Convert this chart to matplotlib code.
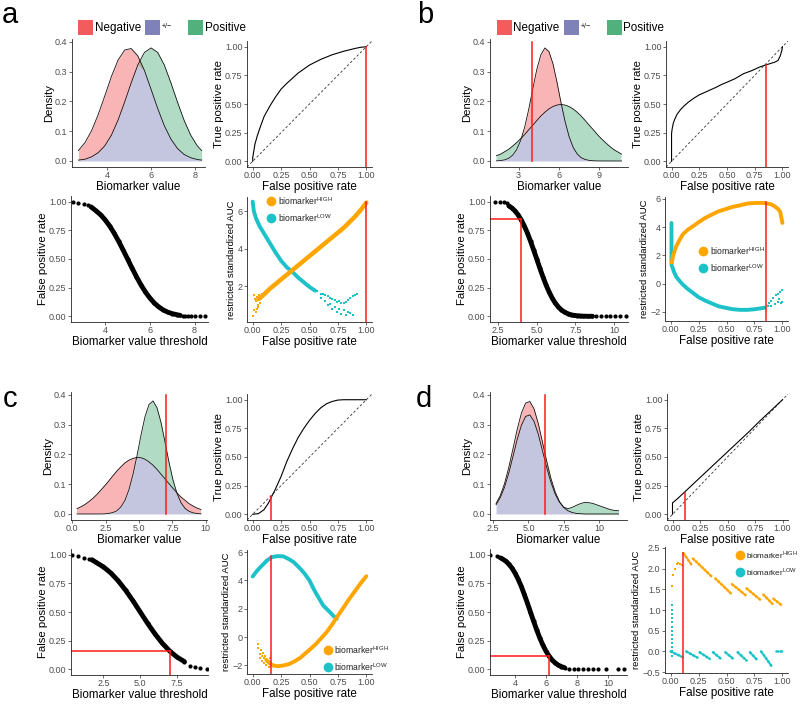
import matplotlib
matplotlib.use("Agg")
import matplotlib.pyplot as plt
import numpy as np
from matplotlib.patches import Rectangle
from matplotlib.lines import Line2D

plt.rcParams["font.family"] = ["Liberation Sans", "DejaVu Sans"]
plt.rcParams["mathtext.fontset"] = "custom"
plt.rcParams["mathtext.rm"] = "Liberation Sans"
plt.rcParams["axes.unicode_minus"] = True

W, H = 800, 704
NEG = "#F25C5C"
MID = "#7E82B8"
POS = "#52B07D"
ORANGE = "#FFA500"
CYAN = "#1CC2C8"
RED = "#FF1A1A"
TICK = "#4D4D4D"

# ---------------- densities ----------------
dens_a_x = [2.7, 3.0, 3.3, 3.6, 3.9, 4.2, 4.5, 4.8, 5.1, 5.4, 5.7, 6.0, 6.3, 6.6, 6.9, 7.2, 7.5, 7.8, 8.1, 8.3]
dens_a_neg = [0.035, 0.062, 0.102, 0.156, 0.219, 0.284, 0.339, 0.373, 0.378, 0.353, 0.304, 0.241, 0.177, 0.119,
              0.074, 0.042, 0.022, 0.011, 0.005, 0.003]
dens_a_pos = [0.003, 0.006, 0.014, 0.028, 0.051, 0.087, 0.137, 0.198, 0.263, 0.323, 0.365, 0.38, 0.365, 0.323,
              0.263, 0.198, 0.137, 0.087, 0.051, 0.035]

dens_b_x = [1.35, 1.65, 1.95, 2.25, 2.55, 2.85, 3.15, 3.45, 3.75, 4.05, 4.35, 4.65, 4.95, 5.25, 5.55, 5.85,
            6.15, 6.45, 6.75, 7.05, 7.35, 7.65, 7.95, 8.25, 8.55, 8.85, 9.15, 9.45, 9.75, 10.05, 10.35, 10.65]
dens_b_neg = [0.0005, 0.0014, 0.0036, 0.0087, 0.019, 0.038, 0.069, 0.114, 0.174, 0.242, 0.308, 0.357, 0.38,
              0.368, 0.327, 0.265, 0.196, 0.133, 0.082, 0.046, 0.024, 0.011, 0.005, 0.002, 0.0007, 0.0002,
              0.0001, 0.0, 0.0, 0.0, 0.0, 0.0]
dens_b_pos = [0.018, 0.023, 0.031, 0.039, 0.050, 0.062, 0.075, 0.089, 0.105, 0.120, 0.136, 0.151, 0.164, 0.175,
              0.183, 0.188, 0.19, 0.188, 0.183, 0.175, 0.164, 0.151, 0.136, 0.120, 0.105, 0.089, 0.075, 0.062,
              0.050, 0.039, 0.031, 0.023]

dens_c_x = [0.35, 0.65, 0.95, 1.25, 1.55, 1.85, 2.15, 2.45, 2.75, 3.05, 3.35, 3.65, 3.95, 4.25, 4.55, 4.85,
            5.15, 5.45, 5.75, 6.05, 6.35, 6.65, 6.95, 7.25, 7.55, 7.85, 8.15, 8.45, 8.75, 9.05, 9.35, 9.65]
dens_c_neg = [0.018, 0.0245, 0.032, 0.042, 0.053, 0.066, 0.081, 0.096, 0.112, 0.129, 0.145, 0.159, 0.172, 0.181,
              0.187, 0.19, 0.189, 0.184, 0.175, 0.164, 0.150, 0.134, 0.118, 0.102, 0.086, 0.071, 0.057, 0.046,
              0.035, 0.027, 0.020, 0.015]
dens_c_pos = [0.0, 0.0, 0.0, 0.0, 0.0, 0.0, 0.0, 0.0005, 0.002, 0.005, 0.011, 0.024, 0.046, 0.082, 0.133, 0.196,
              0.265, 0.327, 0.368, 0.38, 0.357, 0.308, 0.242, 0.174, 0.114, 0.069, 0.038, 0.019, 0.009, 0.004,
              0.0014, 0.0005]

dens_d_x = [2.7, 3.0, 3.3, 3.6, 3.9, 4.2, 4.5, 4.8, 5.1, 5.4, 5.7, 6.0, 6.3, 6.6, 6.9, 7.2, 7.5, 7.8, 8.1, 8.4,
            8.7, 9.0, 9.3, 9.6, 9.9, 10.2, 10.5, 10.8, 11.1, 11.4]
dens_d_neg = [0.035, 0.062, 0.102, 0.156, 0.219, 0.284, 0.339, 0.373, 0.378, 0.353, 0.304, 0.241, 0.177, 0.119,
              0.074, 0.042, 0.022, 0.011, 0.005, 0.002, 0.001, 0.0, 0.0, 0.0, 0.0, 0.0, 0.0, 0.0, 0.0, 0.0]
dens_d_pos = [0.031, 0.055, 0.090, 0.137, 0.193, 0.250, 0.298, 0.328, 0.333, 0.311, 0.268, 0.212, 0.156, 0.106,
              0.067, 0.040, 0.023, 0.018, 0.022, 0.029, 0.035, 0.039, 0.038, 0.035, 0.030, 0.025, 0.020, 0.015,
              0.012, 0.011]

# ---------------- ROC curves ----------------
roc_a_fpr = [0, 0, 0.005, 0.01, 0.02, 0.04, 0.06, 0.1, 0.15, 0.2, 0.25, 0.3, 0.4, 0.5, 0.6, 0.7, 0.8, 0.9, 0.95, 1.0]
roc_a_tpr = [0, 0.03, 0.06, 0.09, 0.15, 0.22, 0.28, 0.39, 0.48, 0.56, 0.63, 0.68, 0.77, 0.84, 0.89, 0.93, 0.96,
             0.985, 0.995, 1.0]
roc_b_fpr = [0, 0, 0.005, 0.015, 0.03, 0.05, 0.08, 0.11, 0.15, 0.2, 0.25, 0.32, 0.4, 0.45, 0.5, 0.57, 0.65, 0.72,
             0.8, 0.88, 0.93, 0.96, 0.98, 0.995, 1.0]
roc_b_tpr = [0, 0.24, 0.28, 0.33, 0.37, 0.41, 0.45, 0.48, 0.515, 0.55, 0.58, 0.61, 0.645, 0.67, 0.69, 0.72, 0.765,
             0.79, 0.825, 0.85, 0.865, 0.88, 0.92, 0.97, 1.0]
roc_c_fpr = [0.0, 0.05, 0.1, 0.14, 0.17, 0.2, 0.25, 0.3, 0.35, 0.4, 0.45, 0.5, 0.55, 0.6, 0.65, 0.7, 0.75, 0.8, 1.0]
roc_c_tpr = [0.0, 0.005, 0.04, 0.1, 0.16, 0.22, 0.33, 0.46, 0.57, 0.67, 0.75, 0.82, 0.88, 0.93, 0.965, 0.985,
             0.997, 1.0, 1.0]
roc_d_fpr = [0, 0, 0.02, 0.05, 0.1, 0.15, 0.2, 0.25, 0.3, 0.4, 0.5, 0.6, 0.7, 0.8, 0.9, 0.95, 1.0]
roc_d_tpr = [0, 0.1, 0.115, 0.14, 0.185, 0.23, 0.275, 0.32, 0.365, 0.455, 0.545, 0.635, 0.725, 0.82, 0.91, 0.955,
             1.0]

# ---------------- FPR vs threshold ----------------
thr_a_x = [3.37, 3.6, 3.8, 4.0, 4.2, 4.4, 4.6, 4.8, 5.0, 5.2, 5.4, 5.6, 5.8, 6.0, 6.2, 6.4, 6.6, 6.8, 7.0, 7.2, 7.35]
thr_a_y = [0.955, 0.919, 0.885, 0.841, 0.788, 0.726, 0.655, 0.579, 0.5, 0.421, 0.345, 0.274, 0.212, 0.159, 0.115,
           0.081, 0.055, 0.036, 0.023, 0.014, 0.008]
thr_a_tail_x = [2.54, 2.79, 3.04, 3.23, 7.46, 7.58, 7.71, 7.82, 8.0, 8.22, 8.48]
thr_a_tail_y = [1.0, 0.99, 0.98, 0.97, 0.005, 0.003, 0.002, 0.001, 0.0, 0.0, 0.0]

thr_b_x = [3.2, 3.4, 3.6, 3.8, 4.0, 4.2, 4.4, 4.6, 4.8, 5.0, 5.2, 5.4, 5.6, 5.8, 6.0, 6.2, 6.4, 6.6, 6.8, 7.0, 7.2,
           7.4, 7.6, 7.8, 8.0, 8.3, 8.6]
thr_b_y = [0.964, 0.945, 0.919, 0.885, 0.841, 0.788, 0.726, 0.655, 0.579, 0.5, 0.421, 0.345, 0.274, 0.212, 0.159,
           0.115, 0.081, 0.055, 0.036, 0.023, 0.014, 0.008, 0.005, 0.003, 0.001, 0.0, 0.0]
thr_b_tail_x = [2.28, 2.6, 2.87, 3.05, 8.86, 9.18, 9.5, 9.72, 10.04, 10.37, 10.8]
thr_b_tail_y = [1.0, 1.0, 0.995, 0.985, 0.0, 0.0, 0.0, 0.0, 0.0, 0.0, 0.0]

thr_c_x = [1.73, 2.0, 2.5, 3.0, 3.5, 4.0, 4.5, 5.0, 5.5, 6.0, 6.5, 7.0, 7.5, 8.0]
thr_c_y = [0.956, 0.933, 0.894, 0.841, 0.773, 0.691, 0.599, 0.5, 0.401, 0.309, 0.227, 0.159, 0.106, 0.067]
thr_c_tail_x = [0.35, 0.77, 1.17, 1.5, 8.39, 8.72, 9.06, 9.5]
thr_c_tail_y = [1.0, 0.988, 0.974, 0.965, 0.032, 0.018, 0.009, 0.0]

thr_d_x = [3.1, 3.4, 3.6, 3.8, 4.0, 4.2, 4.4, 4.6, 4.8, 5.0, 5.2, 5.4, 5.6, 5.8, 6.0, 6.2, 6.4, 6.6, 6.8, 7.0, 7.2]
thr_d_y = [0.971, 0.945, 0.919, 0.885, 0.841, 0.788, 0.726, 0.655, 0.579, 0.5, 0.421, 0.345, 0.274, 0.212, 0.159,
           0.115, 0.081, 0.055, 0.036, 0.023, 0.014]
thr_d_tail_x = [2.42, 2.84, 3.0, 7.47, 7.79, 8.1, 8.42, 8.74, 9.05, 9.37, 9.89, 10.63, 11.05]
thr_d_tail_y = [1.0, 0.99, 0.98, 0.005, 0.0, 0.0, 0.0, 0.0, 0.0, 0.0, 0.0, 0.0, 0.0]

# chosen cut-off per panel: (threshold, fpr, tpr, auc at cut)
cut_b = (4.0, 0.85, 0.84, 5.8)
cut_c = (7.0, 0.16, 0.16, 5.75)
cut_d = (6.2, 0.115, 0.19, 2.37)

# ---------------- restricted standardized AUC ----------------
hi_a_x = [0.05, 0.1, 0.15, 0.2, 0.25, 0.3, 0.35, 0.4, 0.45, 0.5, 0.55, 0.6, 0.65, 0.7, 0.75, 0.8, 0.85, 0.9, 0.95, 1.0]
hi_a_y = [1.3, 1.55, 1.85, 2.1, 2.35, 2.6, 2.85, 3.1, 3.35, 3.6, 3.85, 4.1, 4.35, 4.6, 4.85, 5.1, 5.4, 5.7, 6.05, 6.45]
hi_a_sx = [0.005, 0.01, 0.015, 0.02, 0.025, 0.03, 0.035, 0.04, 0.045, 0.05, 0.055, 0.06, 0.07, 0.08, 0.09]
hi_a_sy = [0.4, 1.5, 0.7, 1.3, 0.6, 1.2, 0.8, 1.4, 0.9, 1.0, 1.5, 1.1, 1.3, 1.6, 1.4]
lo_a_x = [0.0, 0.01, 0.03, 0.06, 0.1, 0.15, 0.2, 0.25, 0.3, 0.35, 0.4, 0.45, 0.5, 0.55]
lo_a_y = [6.5, 6.0, 5.6, 5.2, 4.8, 4.3, 3.8, 3.35, 3.0, 2.75, 2.45, 2.2, 1.95, 1.75]
lo_a_sx = [0.57, 0.6, 0.62, 0.64, 0.66, 0.68, 0.7, 0.72, 0.74, 0.76, 0.78, 0.8, 0.82, 0.84, 0.86, 0.88, 0.9, 0.92,
           0.6, 0.64, 0.68, 0.72, 0.76, 0.8, 0.84, 0.88, 0.66, 0.7, 0.74, 0.78, 0.82, 0.86]
lo_a_sy = [1.75, 1.6, 1.55, 1.5, 1.45, 1.35, 1.3, 1.25, 1.15, 1.2, 1.1, 1.1, 1.15, 1.25, 1.35, 1.45, 1.5, 1.55,
           1.35, 1.2, 1.05, 0.9, 0.8, 0.7, 0.6, 0.45, 1.0, 0.75, 0.6, 0.5, 0.45, 0.55]

hi_b_x = [0.01, 0.02, 0.035, 0.05, 0.08, 0.11, 0.15, 0.2, 0.25, 0.31, 0.37, 0.43, 0.5, 0.55, 0.62, 0.69, 0.76,
          0.84, 0.9, 0.93, 0.96, 0.98, 1.0]
hi_b_y = [1.5, 1.9, 2.3, 2.65, 3.1, 3.5, 3.8, 4.07, 4.35, 4.66, 4.9, 5.13, 5.3, 5.43, 5.55, 5.68, 5.72, 5.72, 5.62,
          5.48, 5.3, 5.1, 4.3]
lo_b_x = [0.008, 0.008, 0.01, 0.03, 0.05, 0.08, 0.11, 0.15, 0.2, 0.25, 0.31, 0.37, 0.43, 0.5, 0.55, 0.62, 0.69,
          0.76, 0.84]
lo_b_y = [4.3, 1.5, 1.3, 0.85, 0.5, 0.2, -0.06, -0.35, -0.65, -0.95, -1.2, -1.4, -1.6, -1.72, -1.8, -1.85, -1.85,
          -1.8, -1.7]
lo_b_sx = [0.87, 0.88, 0.9, 0.92, 0.94, 0.96, 0.98, 1.0, 0.9, 0.93, 0.96, 0.99, 0.97, 1.0]
lo_b_sy = [-1.55, -1.4, -1.2, -1.0, -0.8, -0.7, -0.6, -0.45, -1.6, -1.45, -1.3, -1.4, -1.1, -1.3]

lo_c_x = [0.0, 0.03, 0.067, 0.1, 0.125, 0.17, 0.22, 0.27, 0.32, 0.36, 0.42, 0.46, 0.5, 0.53, 0.56, 0.59, 0.62,
          0.65, 0.68, 0.71, 0.74]
lo_c_y = [4.28, 4.6, 4.94, 5.2, 5.41, 5.65, 5.72, 5.7, 5.5, 5.3, 4.82, 4.45, 4.0, 3.5, 3.06, 2.65, 2.24, 2.0,
          1.76, 1.5, 1.3]
hi_c_x = [0.12, 0.15, 0.18, 0.22, 0.27, 0.32, 0.37, 0.42, 0.47, 0.52, 0.56, 0.6, 0.65, 0.7, 0.74, 0.8, 0.85, 0.9,
          0.95, 1.0]
hi_c_y = [-1.6, -1.85, -2.0, -2.05, -2.0, -1.9, -1.7, -1.45, -1.1, -0.75, -0.45, -0.1, 0.35, 0.9, 1.4, 2.1, 2.7,
          3.25, 3.8, 4.3]
hi_c_sx = [0.05, 0.05, 0.06, 0.06, 0.07, 0.08, 0.08, 0.09, 0.1, 0.1, 0.11, 0.12, 0.13, 0.14, 0.15]
hi_c_sy = [-0.5, -0.8, -1.2, -1.5, -0.9, -1.3, -1.7, -1.1, -1.5, -1.8, -1.3, -2.0, -1.6, -2.1, -1.5]

hi_d_x = [0.01, 0.025, 0.04, 0.055, 0.07, 0.085, 0.1]
hi_d_y = [1.57, 1.85, 2.0, 2.1, 2.13, 2.12, 2.08]
hi_d_x0 = [0.115, 0.2, 0.4, 0.55, 0.68, 0.83, 0.92]
hi_d_y0 = [2.37, 2.24, 1.76, 1.62, 1.52, 1.37, 1.27]
hi_d_x1 = [0.19, 0.37, 0.54, 0.67, 0.81, 0.91, 1.0]
hi_d_y1 = [2.08, 1.8, 1.4, 1.36, 1.23, 1.15, 1.1]
lo_d_col_y = [1.12, 1.0, 0.9, 0.8, 0.7, 0.6, 0.5, 0.4, 0.3, 0.2, 0.1, 0.0, -0.1]
lo_d_x0 = [0.0, 0.14, 0.26, 0.38, 0.49, 0.6, 0.71, 0.81, 0.94]
lo_d_y0 = [0.0, 0.0, -0.02, -0.02, -0.02, -0.02, -0.02, 0.0, 0.0]
lo_d_x1 = [0.11, 0.24, 0.35, 0.46, 0.57, 0.68, 0.78, 0.91, 1.0]
lo_d_y1 = [-0.14, -0.15, -0.18, -0.2, -0.2, -0.22, -0.22, -0.38, 0.0]


def box(x0, y0, x1, y1):
    return [x0 / W, 1 - y1 / H, (x1 - x0) / W, (y1 - y0) / H]


def fx(px):
    return px / W


def fy(py):
    return 1 - py / H


def style(ax, xlim, ylim, xticks, xlabels, yticks, ylabels, xlabel, ylabel, ysize=8.2):
    ax.set_xlim(*xlim)
    ax.set_ylim(*ylim)
    ax.set_xticks(xticks)
    ax.set_xticklabels(xlabels)
    ax.set_yticks(yticks)
    ax.set_yticklabels(ylabels)
    for s in ["top", "right"]:
        ax.spines[s].set_visible(False)
    for s in ["left", "bottom"]:
        ax.spines[s].set_linewidth(0.6)
        ax.spines[s].set_color("#222222")
    ax.tick_params(length=2, width=0.5, color="#333333", labelsize=6.5, labelcolor=TICK, pad=1.2)
    ax.set_xlabel(xlabel, fontsize=8.4, labelpad=0.5)
    ax.set_ylabel(ylabel, fontsize=ysize, labelpad=1)


def density(ax, x, neg, pos, cut=None):
    x, neg, pos = np.asarray(x), np.asarray(neg), np.asarray(pos)
    low = np.minimum(neg, pos)
    ax.fill_between(x, 0, low, color=MID, alpha=0.45, lw=0)
    ax.fill_between(x, low, neg, where=neg >= pos, interpolate=True, color=NEG, alpha=0.45, lw=0)
    ax.fill_between(x, low, pos, where=pos >= neg, interpolate=True, color=POS, alpha=0.45, lw=0)
    ax.plot(x, neg, color="#111111", lw=0.6)
    ax.plot(x, pos, color="#111111", lw=0.6)
    if cut is not None:
        ax.plot([cut[0], cut[0]], [0, 0.4], color=RED, lw=1.1)


def roc(ax, fpr, tpr, cut_x, cut_y):
    ax.plot([-0.05, 1.05], [-0.05, 1.05], color="#333333", lw=0.6, ls=(0, (3, 2.5)))
    ax.plot(fpr, tpr, color="black", lw=0.8)
    ax.plot([cut_x, cut_x], [-0.05, cut_y], color=RED, lw=1.1)


def threshold(ax, x, y, tx, ty, cut=None):
    ax.plot(x, y, color="black", lw=3.5, solid_capstyle="round", marker="o", ms=3, mew=0)
    ax.plot(tx, ty, ls="none", color="black", marker="o", ms=3, mew=0)
    if cut is not None:
        x0 = ax.get_xlim()[0]
        ax.plot([x0, cut[0]], [cut[1], cut[1]], color=RED, lw=1.1)
        ax.plot([cut[0], cut[0]], [-0.05, cut[1]], color=RED, lw=1.1)


def band(ax, x, y, color, lw=2.8):
    ax.plot(x, y, color=color, lw=lw, solid_capstyle="round", solid_joinstyle="round")


def dots(ax, x, y, color):
    ax.plot(x, y, ls="none", marker="s", ms=1.9, mew=0, color=color)


def teeth(ax, x0, y0, x1, y1, color):
    for a, b, c, d in zip(x0, y0, x1, y1):
        ax.plot([a, c], [b, d], color=color, lw=1.9, ls=(0, (0.6, 0.9)), dash_capstyle="round")


def auc_legend(fig, px, py, gap=17, fs=6.2):
    for k, (lab, col) in enumerate([("HIGH", ORANGE), ("LOW", CYAN)]):
        yy = py + k * gap
        fig.add_artist(Line2D([fx(px)], [fy(yy)], marker="o", ms=7, color=col, mew=0, ls="none"))
        fig.text(fx(px + 6.5), fy(yy), r"biomarker$^{\mathrm{%s}}$" % lab, fontsize=fs, va="center",
                 color="#222222")


def top_legend(fig, x0):
    items = [(NEG, "Negative", 8.4, 0), (MID, "+/\u2212", 5.0, 67), (POS, "Positive", 8.4, 110)]
    for col, lab, fs, dx in items:
        fig.add_artist(Rectangle((fx(x0 + dx), fy(35)), 15 / W, 15 / H, transform=fig.transFigure,
                                 color=col, lw=0))
        if fs < 6:
            fig.text(fx(x0 + dx + 17), fy(26), lab, fontsize=fs, va="center")
        else:
            fig.text(fx(x0 + dx + 16.5), fy(28), lab, fontsize=fs, va="center")


ROC_T = [0, 0.25, 0.5, 0.75, 1.0]
ROC_L = ["0.00", "0.25", "0.50", "0.75", "1.00"]
DEN_T = [0, 0.1, 0.2, 0.3, 0.4]
DEN_L = ["0.0", "0.1", "0.2", "0.3", "0.4"]
DEN_LIM = (-0.0202, 0.41)
P_LIM = (-0.05, 1.05)

fig = plt.figure(figsize=(8, 7.04), dpi=100)

# ---- panel a ----
ax = fig.add_axes(box(72, 39, 205, 167))
density(ax, dens_a_x, dens_a_neg, dens_a_pos)
style(ax, (2.41, 8.45), DEN_LIM, [4, 6, 8], ["4", "6", "8"], DEN_T, DEN_L, "Biomarker value", "Density")
ax = fig.add_axes(box(247, 41, 372, 167))
roc(ax, roc_a_fpr, roc_a_tpr, 1.0, 1.0)
style(ax, P_LIM, P_LIM, ROC_T, ROC_L, ROC_T, ROC_L, "False positive rate", "True positive rate")
ax = fig.add_axes(box(71, 196, 208, 322))
threshold(ax, thr_a_x, thr_a_y, thr_a_tail_x, thr_a_tail_y)
style(ax, (2.47, 8.6), P_LIM, [4, 6, 8], ["4", "6", "8"], ROC_T, ROC_L,
      "Biomarker value threshold", "False positive rate")
ax = fig.add_axes(box(247, 197, 372, 322))
band(ax, lo_a_x, lo_a_y, CYAN)
dots(ax, lo_a_sx, lo_a_sy, CYAN)
band(ax, hi_a_x, hi_a_y, ORANGE, lw=3.2)
dots(ax, hi_a_sx, hi_a_sy, ORANGE)
ax.plot([1.0, 1.0], [0.08, 6.5], color=RED, lw=1.1)
style(ax, P_LIM, (0.08, 6.75), ROC_T, ROC_L, [2, 4, 6], ["2", "4", "6"],
      "False positive rate", "restricted standardized AUC", ysize=6.8)
auc_legend(fig, 271, 201)

# ---- panel b ----
ax = fig.add_axes(box(490, 39, 628, 167))
density(ax, dens_b_x, dens_b_neg, dens_b_pos, cut_b)
style(ax, (0.87, 11.13), DEN_LIM, [3, 6, 9], ["3", "6", "9"], DEN_T, DEN_L, "Biomarker value", "Density")
ax = fig.add_axes(box(666, 41, 788, 167))
roc(ax, roc_b_fpr, roc_b_tpr, cut_b[1], cut_b[2])
style(ax, P_LIM, P_LIM, ROC_T, ROC_L, ROC_T, ROC_L, "False positive rate", "True positive rate")
ax = fig.add_axes(box(490, 196, 628, 322))
threshold(ax, thr_b_x, thr_b_y, thr_b_tail_x, thr_b_tail_y, cut_b)
style(ax, (1.98, 10.9), P_LIM, [2.5, 5, 7.5, 10], ["2.5", "5.0", "7.5", "10"], ROC_T, ROC_L,
      "Biomarker value threshold", "False positive rate")
ax = fig.add_axes(box(665, 197, 788, 321))
band(ax, lo_b_x, lo_b_y, CYAN)
dots(ax, lo_b_sx, lo_b_sy, CYAN)
band(ax, hi_b_x, hi_b_y, ORANGE)
ax.plot([cut_b[1], cut_b[1]], [-2.64, cut_b[3]], color=RED, lw=1.1)
style(ax, P_LIM, (-2.64, 6.14), ROC_T, ROC_L, [-2, 0, 2, 4, 6], ["\u22122", "0", "2", "4", "6"],
      "False positive rate", "restricted standardized AUC", ysize=6.8)
auc_legend(fig, 703, 251)

# ---- panel c ----
ax = fig.add_axes(box(71, 392, 207, 520))
density(ax, dens_c_x, dens_c_neg, dens_c_pos, cut_c)
style(ax, (-0.1, 10.1), DEN_LIM, [0, 2.5, 5, 7.5, 10], ["0.0", "2.5", "5.0", "7.5", "10"], DEN_T, DEN_L,
      "Biomarker value", "Density")
ax = fig.add_axes(box(247, 394, 372, 520))
roc(ax, roc_c_fpr, roc_c_tpr, cut_c[1], cut_c[2])
style(ax, P_LIM, P_LIM, ROC_T, ROC_L, ROC_T, ROC_L, "False positive rate", "True positive rate")
ax = fig.add_axes(box(71, 549, 208, 675))
threshold(ax, thr_c_x, thr_c_y, thr_c_tail_x, thr_c_tail_y, cut_c)
style(ax, (0.3, 9.6), P_LIM, [2.5, 5, 7.5], ["2.5", "5.0", "7.5"], ROC_T, ROC_L,
      "Biomarker value threshold", "False positive rate")
ax = fig.add_axes(box(247, 550, 372, 674))
band(ax, lo_c_x, lo_c_y, CYAN)
band(ax, hi_c_x, hi_c_y, ORANGE)
dots(ax, hi_c_sx, hi_c_sy, ORANGE)
ax.plot([cut_c[1], cut_c[1]], [-2.6, cut_c[3]], color=RED, lw=1.1)
style(ax, P_LIM, (-2.6, 6.15), ROC_T, ROC_L, [-2, 0, 2, 4, 6], ["\u22122", "0", "2", "4", "6"],
      "False positive rate", "restricted standardized AUC", ysize=6.8)
auc_legend(fig, 328, 650)

# ---- panel d ----
ax = fig.add_axes(box(490, 392, 627, 520))
density(ax, dens_d_x, dens_d_neg, dens_d_pos, cut_d)
style(ax, (2.27, 12.0), DEN_LIM, [2.5, 5, 7.5, 10], ["2.5", "5.0", "7.5", "10"], DEN_T, DEN_L,
      "Biomarker value", "Density")
ax = fig.add_axes(box(667, 394, 788, 520))
roc(ax, roc_d_fpr, roc_d_tpr, cut_d[1], cut_d[2])
style(ax, P_LIM, P_LIM, ROC_T, ROC_L, ROC_T, ROC_L, "False positive rate", "True positive rate")
ax = fig.add_axes(box(490, 549, 627, 675))
threshold(ax, thr_d_x, thr_d_y, thr_d_tail_x, thr_d_tail_y, cut_d)
style(ax, (2.39, 11.23), P_LIM, [4, 6, 8, 10], ["4", "6", "8", "10"], ROC_T, ROC_L,
      "Biomarker value threshold", "False positive rate")
ax = fig.add_axes(box(665, 547, 788, 673))
dots(ax, [0.01] * len(lo_d_col_y), lo_d_col_y, CYAN)
teeth(ax, lo_d_x0, lo_d_y0, lo_d_x1, lo_d_y1, CYAN)
dots(ax, hi_d_x, hi_d_y, ORANGE)
teeth(ax, hi_d_x0, hi_d_y0, hi_d_x1, hi_d_y1, ORANGE)
ax.plot([cut_d[1], cut_d[1]], [-0.52, cut_d[3]], color=RED, lw=1.1)
style(ax, P_LIM, (-0.52, 2.52), ROC_T, ROC_L, [-0.5, 0, 0.5, 1, 1.5, 2, 2.5],
      ["\u22120.5", "0.0", "0.5", "1.0", "1.5", "2.0", "2.5"],
      "False positive rate", "restricted standardized AUC", ysize=6.8)
auc_legend(fig, 740, 555, fs=5.9)

# ---- legends and panel letters ----
top_legend(fig, 78)
top_legend(fig, 497)
for lab, x, y in [("a", 2, 23), ("b", 417, 23), ("c", 3, 407), ("d", 416, 407)]:
    fig.text(fx(x), fy(y), lab, fontsize=21, va="baseline")

fig.savefig("out.png", dpi=100)
